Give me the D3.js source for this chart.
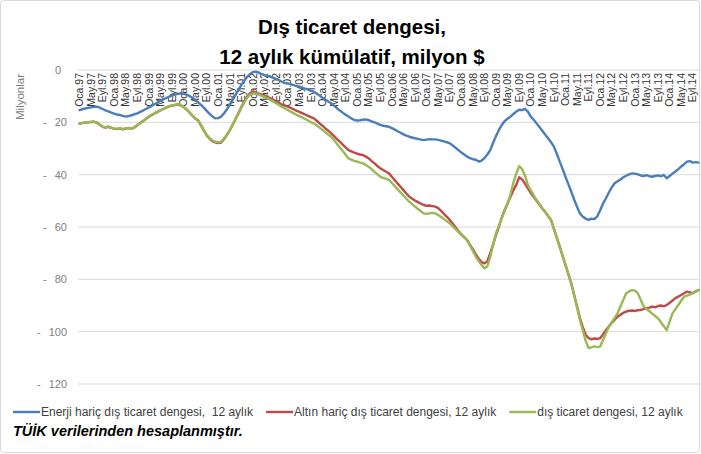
<!DOCTYPE html>
<html>
<head>
<meta charset="utf-8">
<script src="https://cdn.jsdelivr.net/npm/d3@7"></script>
<style>
  body { margin: 0; background: #fff; }
  svg { display: block; font-family: "Liberation Sans", Arial, sans-serif; }
</style>
</head>
<body>
<svg id="chart" width="701" height="454"></svg>
<script>
// aylar ve yıllar (Oca.97 - Kas.14)
const MONTHS = ["Oca", "Şub", "Mar", "Nis", "May", "Haz", "Tem", "Ağu", "Eyl", "Eki", "Kas", "Ara"];
const YEARS = d3.range(1997, 2015);
const N_POINTS = 215;

const categories = [];
YEARS.forEach((year) => {
  MONTHS.forEach((m) => {
    categories.push(`${m}.${String(year).slice(2)}`);
  });
});
categories.length = N_POINTS;

const yTicks = [0, -20, -40, -60, -80, -100, -120];

// milyar $ (ekseni "Milyonlar" ile milyon $ olarak)
const enerjiHaric = [
  -15.3, -15.0, -14.7, -14.5, -14.3, -14.1, -14.0, -14.4, -14.9, -15.4, -15.8, -16.3,
  -16.7, -17.0, -17.2, -17.5, -17.8, -17.6, -17.3, -16.9, -16.6, -16.0, -15.5, -14.9,
  -14.3, -13.7, -13.0, -12.4, -11.8, -11.2, -10.7, -10.2, -9.8, -9.4, -9.1, -8.9,
  -9.0, -9.4, -9.9, -10.6, -11.4, -12.3, -13.3, -14.4, -15.6, -16.8, -17.8, -18.5,
  -18.4, -17.8, -16.5, -15.0, -13.2, -11.3, -9.4, -7.5, -5.7, -4.0, -2.6, -1.5,
  -0.8, -0.6, -1.0, -1.6, -2.0, -2.3, -2.5, -3.0, -3.4, -3.9, -4.5, -4.9,
  -5.1, -5.4, -5.8, -6.1, -6.4, -6.8, -7.1, -7.5, -7.9, -8.3, -9.0, -9.8,
  -10.6, -11.3, -12.0, -12.7, -13.6, -14.6, -15.5, -16.3, -17.1, -17.8, -18.5, -19.1,
  -19.3, -19.2, -19.0, -18.9, -19.2, -19.6, -20.0, -20.5, -21.0, -21.3, -21.5, -21.7,
  -22.2, -22.8, -23.4, -24.0, -24.6, -25.1, -25.5, -25.8, -26.1, -26.3, -26.6, -26.8,
  -26.6, -26.4, -26.5, -26.5, -26.7, -27.0, -27.3, -27.6, -28.0, -28.8, -29.7, -30.6,
  -31.5, -32.3, -33.1, -33.7, -34.1, -34.3, -35.0, -34.6, -33.6, -32.3, -30.6, -27.8,
  -25.2, -22.9, -21.0, -19.5, -18.6, -17.8, -16.8, -15.9, -15.2, -15.3, -14.8, -15.9,
  -17.8, -19.0, -20.4, -21.8, -23.2, -24.7, -26.1, -27.6, -29.3, -32.0, -34.9, -37.8,
  -40.8, -43.6, -46.5, -49.5, -52.3, -54.8, -56.1, -56.8, -57.3, -56.8, -57.0, -55.9,
  -53.6, -51.0, -49.0, -46.8, -44.8, -43.3, -42.5, -41.9, -41.0, -40.4, -39.9, -39.5,
  -39.6, -39.9, -40.3, -40.5, -40.2, -40.6, -40.8, -40.5, -40.3, -40.6, -40.1, -41.4,
  -40.5, -39.6, -38.8, -37.9, -36.9, -36.0, -35.0, -34.8, -35.4, -35.2, -35.4,
];

const altinHaric = [
  -20.5, -20.3, -20.1, -20.0, -19.9, -19.8, -20.1, -20.9, -21.7, -22.0, -21.7, -22.1,
  -22.4, -22.6, -22.3, -22.7, -22.4, -22.2, -22.4, -22.0, -21.1, -20.3, -19.5, -18.7,
  -17.9, -17.2, -16.6, -16.0, -15.4, -14.9, -14.4, -13.9, -13.6, -13.4, -13.2, -13.5,
  -14.1, -15.1, -16.2, -17.4, -18.5, -19.3, -21.2, -23.2, -25.0, -26.3, -27.3, -27.7,
  -27.9, -27.7, -26.4, -24.8, -23.0, -20.8, -18.6, -16.4, -14.1, -12.0, -10.1, -8.8,
  -8.3, -8.6, -9.0, -9.4, -9.9, -10.3, -10.8, -11.4, -12.0, -12.6, -13.2, -13.6,
  -14.0, -14.5, -15.0, -15.5, -16.0, -16.5, -17.0, -17.5, -18.0, -18.5, -19.4, -20.4,
  -21.3, -22.3, -23.2, -24.2, -25.3, -26.4, -27.4, -28.5, -29.6, -30.6, -31.1, -31.6,
  -32.0, -32.3, -32.5, -33.1, -33.8, -34.8, -35.7, -36.7, -37.6, -38.2, -38.9, -39.5,
  -40.8, -42.1, -43.4, -44.6, -45.9, -47.2, -48.4, -49.2, -49.9, -50.5, -51.1, -51.6,
  -51.9, -51.8, -52.0, -52.2, -52.8, -53.8, -55.0, -56.1, -57.3, -58.7, -60.1, -61.6,
  -62.8, -63.9, -65.0, -66.8, -68.6, -70.4, -72.1, -73.4, -73.9, -73.1, -70.0, -66.6,
  -63.0, -59.9, -56.3, -53.4, -51.0, -48.4, -46.0, -43.8, -41.0, -41.8, -43.4, -45.2,
  -47.0, -48.5, -50.0, -51.4, -52.9, -54.3, -55.8, -57.3, -60.7, -64.1, -67.5, -71.0,
  -74.5, -78.0, -81.5, -86.0, -90.4, -94.8, -98.3, -101.2, -102.5, -102.9, -102.6, -102.8,
  -102.5, -101.0, -99.4, -98.0, -96.6, -95.4, -94.3, -93.5, -92.8, -92.3, -92.0, -91.9,
  -92.1, -91.8, -91.7, -91.4, -91.0, -90.8, -90.4, -90.7, -90.2, -90.0, -90.3, -89.8,
  -89.0, -88.1, -87.2, -86.6, -86.0, -85.3, -84.7, -85.0, -85.3, -84.6, -84.1,
];

const disTicaret = [
  -20.4, -20.2, -20.0, -19.9, -19.8, -19.7, -20.0, -20.8, -21.7, -21.9, -21.6, -22.0,
  -22.3, -22.5, -22.2, -22.6, -22.3, -22.1, -22.3, -21.9, -21.0, -20.2, -19.4, -18.6,
  -17.8, -17.1, -16.5, -15.9, -15.3, -14.8, -14.3, -13.8, -13.5, -13.3, -13.1, -13.4,
  -14.0, -15.0, -16.1, -17.3, -18.4, -19.1, -21.0, -23.0, -24.8, -26.0, -27.0, -27.4,
  -27.6, -27.4, -26.1, -24.6, -22.9, -20.8, -18.7, -16.6, -14.4, -12.4, -10.6, -9.4,
  -8.9, -9.0, -9.4, -9.9, -10.4, -10.8, -11.4, -12.0, -12.7, -13.4, -14.1, -14.7,
  -15.3, -15.9, -16.5, -17.1, -17.6, -18.1, -18.7, -19.3, -19.9, -20.4, -21.2, -22.0,
  -22.9, -23.8, -24.7, -25.5, -26.8, -28.2, -29.6, -31.0, -32.4, -33.8, -34.3, -34.7,
  -35.0, -35.4, -35.7, -36.3, -37.0, -37.9, -38.9, -39.9, -40.8, -41.2, -41.6, -42.0,
  -43.2, -44.4, -45.6, -46.8, -48.0, -49.2, -50.3, -51.3, -52.2, -53.1, -54.0, -54.8,
  -55.0, -54.8, -54.6, -54.8, -55.4, -56.2, -57.0, -57.8, -58.6, -59.7, -60.8, -61.9,
  -63.0, -64.0, -65.0, -67.1, -69.2, -71.3, -73.0, -74.5, -75.8, -75.0, -71.3, -66.8,
  -62.4, -59.5, -56.6, -53.8, -51.0, -47.5, -43.0, -39.6, -36.7, -37.9, -40.3, -44.0,
  -46.0, -47.8, -49.7, -51.2, -52.8, -54.3, -55.8, -57.3, -60.7, -64.1, -67.5, -71.0,
  -74.5, -78.0, -81.5, -86.2, -90.8, -95.5, -99.5, -103.5, -106.3, -106.0, -105.6, -105.9,
  -105.7, -103.2, -100.6, -98.1, -96.4, -94.7, -93.0, -90.4, -87.8, -85.3, -84.6, -84.1,
  -84.3, -85.3, -87.8, -90.4, -91.3, -92.2, -93.1, -94.0, -94.9, -96.4, -97.9, -99.4,
  -96.2, -93.0, -91.4, -89.8, -88.2, -86.6, -86.2, -85.8, -85.3, -84.7, -84.1,
];

const series = [
  { name: "Enerji hariç dış ticaret dengesi,  12 aylık", color: "#4a7ebb", values: enerjiHaric },
  { name: "Altın hariç dış ticaret dengesi, 12 aylık", color: "#be4b48", values: altinHaric },
  { name: "dış ticaret dengesi, 12 aylık", color: "#98b954", values: disTicaret },
];

const svg = d3.select("#chart");
const W = 701;
const plot = { left: 78, right: 700, top: 70, bottom: 384 };

// çerçeve
svg.append("rect")
  .attr("x", 0.5).attr("y", 0.5)
  .attr("width", W - 2).attr("height", 452)
  .attr("rx", 3)
  .attr("fill", "#fff")
  .attr("stroke", "#d9d9d9");

const x = d3.scaleLinear()
  .domain([-0.5, N_POINTS - 0.5])
  .range([plot.left, plot.right]);

const y = d3.scaleLinear()
  .domain([-120, 0])
  .range([plot.bottom, plot.top]);

// ızgara çizgileri
svg.append("g")
  .selectAll("line")
  .data(yTicks)
  .join("line")
  .attr("x1", plot.left).attr("x2", plot.right)
  .attr("y1", (d) => y(d)).attr("y2", (d) => y(d))
  .attr("stroke", "#d9d9d9")
  .attr("stroke-width", 1);

// y ekseni etiketleri: "-   20" biçimi
const yLab = svg.append("g").attr("font-size", 11).attr("fill", "#808080");
yTicks.forEach((t) => {
  if (t === 0) {
    yLab.append("text")
      .attr("x", 61).attr("y", y(t)).attr("dy", "0.35em")
      .attr("text-anchor", "end")
      .text("0");
    return;
  }
  const num = yLab.append("text")
    .attr("x", 67).attr("y", y(t)).attr("dy", "0.35em")
    .attr("text-anchor", "end")
    .text(d3.format("d")(Math.abs(t)));
  const w = num.node().getComputedTextLength();
  yLab.append("text")
    .attr("x", 67 - w - 8).attr("y", y(t)).attr("dy", "0.35em")
    .attr("text-anchor", "end")
    .text("-");
});

svg.append("text")
  .attr("transform", "translate(20,97) rotate(-90)")
  .attr("text-anchor", "middle")
  .attr("dy", "0.35em")
  .attr("font-size", 11.5)
  .attr("fill", "#808080")
  .text("Milyonlar");

// x ekseni etiketleri (her 4 ayda bir)
svg.append("g")
  .selectAll("text")
  .data(categories.map((c, i) => ({ c, i })).filter((d) => d.i % 4 === 0))
  .join("text")
  .attr("transform", (d) => `translate(${x(d.i)},73) rotate(-90)`)
  .attr("text-anchor", "end")
  .attr("dy", "0.35em")
  .attr("font-size", 10.5)
  .attr("fill", "#333")
  .text((d) => d.c);

// seriler
const line = d3.line()
  .x((d, i) => x(i))
  .y((d) => y(d));

svg.append("g")
  .selectAll("path")
  .data(series)
  .join("path")
  .attr("d", (s) => line(s.values))
  .attr("fill", "none")
  .attr("stroke", (s) => s.color)
  .attr("stroke-width", 2.4)
  .attr("stroke-linejoin", "round")
  .attr("stroke-linecap", "round");

// başlık
const title = svg.append("g")
  .attr("font-weight", "bold")
  .attr("font-size", 20.5)
  .attr("fill", "#000")
  .attr("text-anchor", "middle");
title.append("text").attr("x", 352).attr("y", 34).text("Dış ticaret dengesi,");
title.append("text").attr("x", 352).attr("y", 64).text("12 aylık kümülatif, milyon $");

// lejant
const legend = svg.append("g").attr("font-size", 12).attr("fill", "#404040");
let lx = 13;
const ly = 412;
series.forEach((s) => {
  legend.append("line")
    .attr("x1", lx).attr("x2", lx + 27)
    .attr("y1", ly).attr("y2", ly)
    .attr("stroke", s.color)
    .attr("stroke-width", 2.4);
  const t = legend.append("text")
    .attr("x", lx + 28).attr("y", ly).attr("dy", "0.35em")
    .attr("xml:space", "preserve")
    .style("white-space", "pre")
    .text(s.name);
  lx += 28 + t.node().getComputedTextLength() + 13;
});

svg.append("text")
  .attr("x", 13).attr("y", 431).attr("dy", "0.35em")
  .attr("font-size", 14.5)
  .attr("font-weight", "bold")
  .attr("font-style", "italic")
  .attr("fill", "#000")
  .text("TÜİK verilerinden hesaplanmıştır.");
</script>
</body>
</html>
